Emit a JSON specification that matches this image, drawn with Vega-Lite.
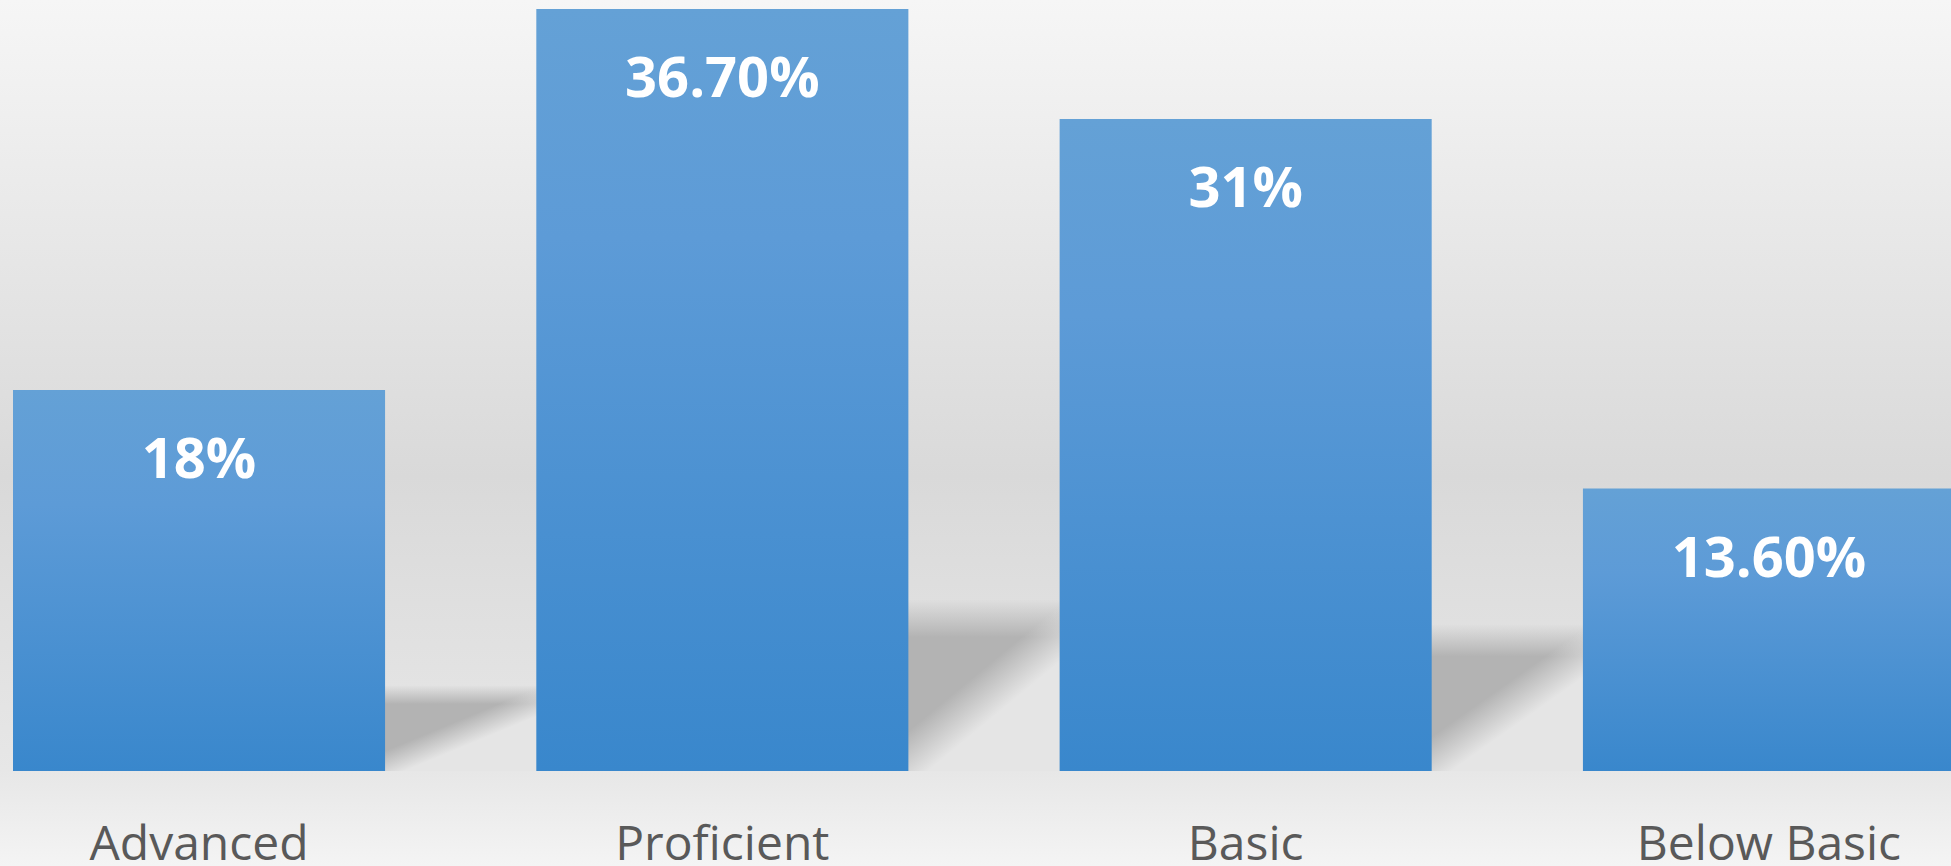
{
  "$schema": "https://vega.github.io/schema/vega-lite/v6.json",
  "width": 1951,
  "height": 866,
  "autosize": "none",
  "padding": 0,
  "background": "#eeeeee",
  "config": {
    "view": {
      "stroke": null,
      "fill": {"gradient": "linear", "x1": 0, "y1": 0, "x2": 0, "y2": 1,
        "stops": [
          {"offset": 0, "color": "#f6f6f6"},
          {"offset": 0.55, "color": "#d9d9d9"},
          {"offset": 0.89, "color": "#e7e7e7"},
          {"offset": 1, "color": "#f4f4f4"}
        ]}
    }
  },
  "data": {"values": [
    {"level": "Advanced", "pct": 18.35, "label": "18%"},
    {"level": "Proficient", "pct": 36.7, "label": "36.70%"},
    {"level": "Basic", "pct": 31.4, "label": "31%"},
    {"level": "Below Basic", "pct": 13.6, "label": "13.60%"}
  ]},
  "encoding": {
    "x": {"field": "level", "type": "nominal", "sort": null, "axis": null,
      "scale": {"range": [13, 1955], "paddingInner": 0.289, "paddingOuter": 0}}
  },
  "layer": [
    {
      "mark": {"type": "bar", "xOffset": 152,
        "color": {"gradient": "linear", "x1": 0, "y1": 0, "x2": 0, "y2": 1,
          "stops": [
            {"offset": 0, "color": "rgba(179,179,179,0)"},
            {"offset": 0.22, "color": "rgba(179,179,179,1)"},
            {"offset": 1, "color": "rgba(179,179,179,1)"}
          ]}},
      "encoding": {
        "y": {"field": "pct", "type": "quantitative", "axis": null,
          "scale": {"domain": [0, 163], "range": [771, 9], "zero": true, "nice": false}}
      }
    },
    {
      "mark": {"type": "bar", "xOffset": 152,
        "color": {"gradient": "linear", "x1": 0.725, "y1": 0.526, "x2": 0.865, "y2": 0.604,
          "stops": [
            {"offset": 0, "color": "rgba(229,229,229,0)"},
            {"offset": 1, "color": "rgba(229,229,229,1)"}
          ]}},
      "encoding": {
        "y": {"field": "pct", "type": "quantitative", "axis": null,
          "scale": {"domain": [0, 163], "range": [771, 9], "zero": true, "nice": false}}
      }
    },
    {
      "mark": {"type": "bar",
        "color": {"gradient": "linear", "x1": 0, "y1": 0, "x2": 0, "y2": 1,
          "stops": [
            {"offset": 0, "color": "#64a1d6"},
            {"offset": 0.3, "color": "#5d9bd7"},
            {"offset": 1, "color": "#3987cc"}
          ]}},
      "encoding": {
        "y": {"field": "pct", "type": "quantitative", "axis": null,
          "scale": {"domain": [0, 36.7], "range": [771, 9], "zero": true, "nice": false}}
      }
    },
    {
      "mark": {"type": "text", "dy": 88, "baseline": "alphabetic", "align": "center",
        "font": "Open Sans", "fontWeight": "bold", "fontSize": 56, "color": "#ffffff"},
      "encoding": {
        "y": {"field": "pct", "type": "quantitative", "axis": null,
          "scale": {"domain": [0, 36.7], "range": [771, 9], "zero": true, "nice": false}},
        "text": {"field": "label"}
      }
    },
    {
      "mark": {"type": "text", "dy": 89, "baseline": "alphabetic", "align": "center",
        "font": "Open Sans", "fontSize": 48, "color": "#595959"},
      "encoding": {
        "y": {"datum": 0, "type": "quantitative", "axis": null,
          "scale": {"domain": [0, 36.7], "range": [771, 9], "zero": true, "nice": false}},
        "text": {"field": "level"}
      }
    }
  ],
  "resolve": {"scale": {"y": "independent"}}
}
